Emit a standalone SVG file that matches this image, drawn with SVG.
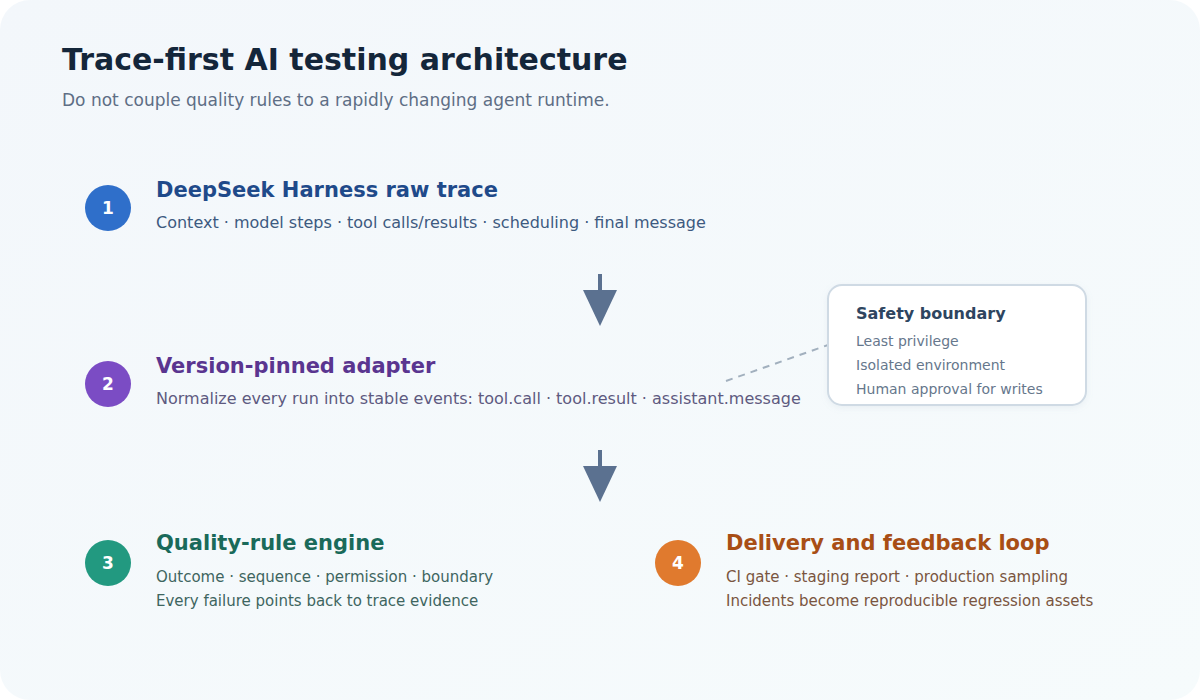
<svg xmlns="http://www.w3.org/2000/svg" width="1200" height="700" viewBox="0 0 1200 700">
<defs>
<linearGradient id="bg" x1="0" y1="0" x2="1" y2="1">
<stop offset="0" stop-color="#f3f7fb"/>
<stop offset="1" stop-color="#f6fbfc"/>
</linearGradient>
<filter id="sh" x="-10%" y="-10%" width="120%" height="130%">
<feDropShadow dx="0" dy="2" stdDeviation="3" flood-color="#8aa0b8" flood-opacity="0.12"/>
</filter>
</defs>
<style>
text{font-family:"DejaVu Sans","Liberation Sans",sans-serif}
.title{font-size:30px;font-weight:bold;fill:#14263a}
.subtitle{font-size:17px;fill:#5e6e85}
.num{font-size:17px;font-weight:bold;fill:#ffffff;text-anchor:middle}
.h{font-size:21px;font-weight:bold}
.d{font-size:16px}
.d2{font-size:15px}
.arrow{fill:#5b7190;stroke:none}
.shaft{stroke:#5b7190;stroke-width:4}
</style>
<rect x="0" y="0" width="1200" height="700" fill="#ffffff"/>
<rect x="0" y="0" width="1200" height="700" rx="30" fill="url(#bg)"/>
<text class="title" x="62" y="70">Trace-first AI testing architecture</text>
<text class="subtitle" x="62" y="106">Do not couple quality rules to a rapidly changing agent runtime.</text>

<g id="connectors">
<line class="shaft" x1="600" y1="274" x2="600" y2="293"/>
<polygon class="arrow" points="583,290 617,290 600,326"/>
<line class="shaft" x1="600" y1="450" x2="600" y2="469"/>
<polygon class="arrow" points="583,466 617,466 600,502"/>
<line x1="726" y1="381" x2="828" y2="345" stroke="#a2b0be" stroke-width="2" stroke-dasharray="7 6"/>
</g>

<g id="node1">
<circle cx="108" cy="208" r="23" fill="#2f6fca"/>
<text class="num" x="108" y="214">1</text>
<text class="h" x="156" y="197" fill="#1f4a8a">DeepSeek Harness raw trace</text>
<text class="d" x="156" y="228" fill="#3d5a80">Context · model steps · tool calls/results · scheduling · final message</text>
</g>

<g id="node2">
<circle cx="108" cy="384" r="23" fill="#7b4cc4"/>
<text class="num" x="108" y="390">2</text>
<text class="h" x="156" y="373" fill="#5a3590">Version-pinned adapter</text>
<text class="d" x="156" y="404" fill="#5e5a80">Normalize every run into stable events: tool.call · tool.result · assistant.message</text>
</g>

<g id="safety">
<rect x="828" y="285" width="258" height="120" rx="14" fill="#ffffff" stroke="#cfdae4" stroke-width="2" filter="url(#sh)"/>
<text x="856" y="319" font-size="16" font-weight="bold" fill="#2e4560">Safety boundary</text>
<text x="856" y="346" font-size="14" fill="#66778c">Least privilege</text>
<text x="856" y="370" font-size="14" fill="#66778c">Isolated environment</text>
<text x="856" y="394" font-size="14" fill="#66778c">Human approval for writes</text>
</g>

<g id="node3">
<circle cx="108" cy="563" r="23" fill="#229980"/>
<text class="num" x="108" y="569">3</text>
<text class="h" x="156" y="550" fill="#1a6a5a">Quality-rule engine</text>
<text class="d2" x="156" y="582" fill="#3e6560">Outcome · sequence · permission · boundary</text>
<text class="d2" x="156" y="606" fill="#3e6560">Every failure points back to trace evidence</text>
</g>

<g id="node4">
<circle cx="678" cy="563" r="23" fill="#e07a2e"/>
<text class="num" x="678" y="569">4</text>
<text class="h" x="726" y="550" fill="#a84e15">Delivery and feedback loop</text>
<text class="d2" x="726" y="582" fill="#7a5540">CI gate · staging report · production sampling</text>
<text class="d2" x="726" y="606" fill="#7a5540">Incidents become reproducible regression assets</text>
</g>
</svg>
